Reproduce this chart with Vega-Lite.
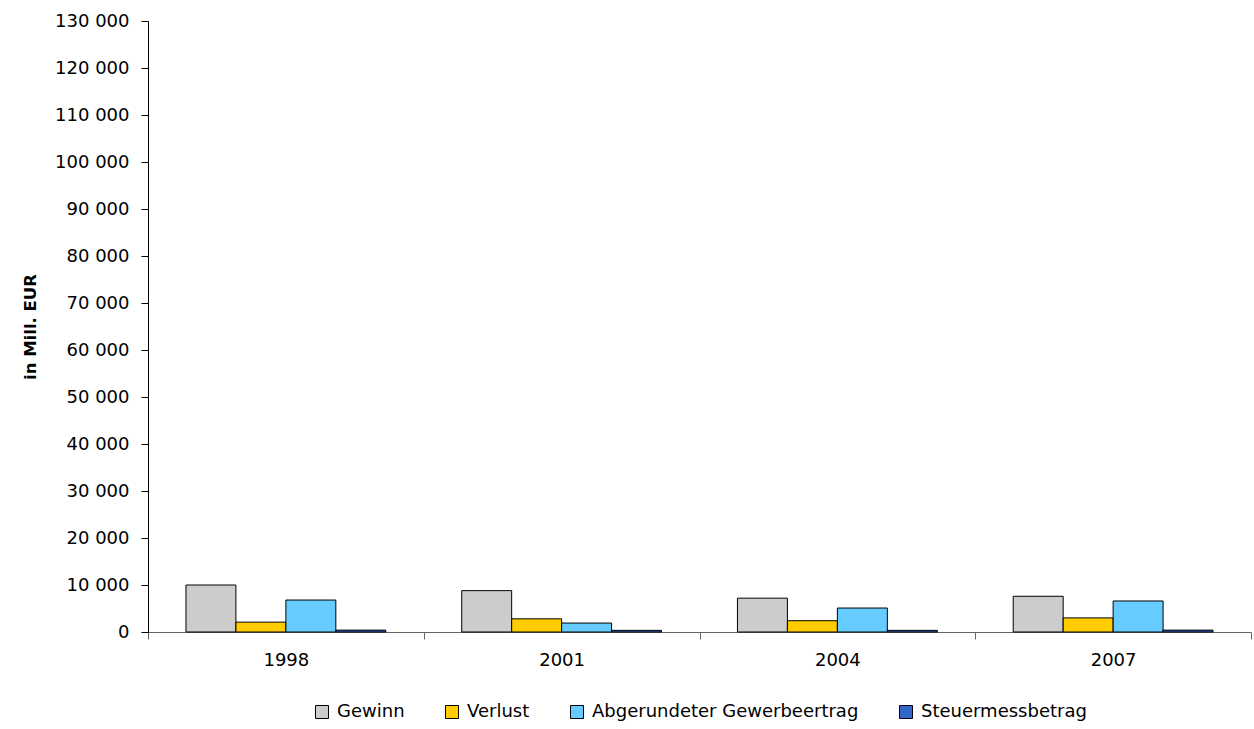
{
  "$schema": "https://vega.github.io/schema/vega-lite/v6.json",
  "autosize": {"type": "fit", "contains": "padding"},
  "width": 1254,
  "height": 729,
  "padding": {"left": 22, "top": 12, "right": 2, "bottom": 8},
  "background": "white",
  "config": {
    "view": {"stroke": null},
    "font": "DejaVu Sans",
    "axis": {"labelFont": "DejaVu Sans", "titleFont": "DejaVu Sans", "labelColor": "black", "titleColor": "black", "grid": false},
    "legend": {"layout": {"bottom": {"anchor": "middle"}}}
  },
  "data": {
    "values": [
      {"year": "1998", "series": "Gewinn", "value": 10000},
      {"year": "1998", "series": "Verlust", "value": 2100},
      {"year": "1998", "series": "Abgerundeter Gewerbeertrag", "value": 6800},
      {"year": "1998", "series": "Steuermessbetrag", "value": 400},
      {"year": "2001", "series": "Gewinn", "value": 8800},
      {"year": "2001", "series": "Verlust", "value": 2800},
      {"year": "2001", "series": "Abgerundeter Gewerbeertrag", "value": 1900},
      {"year": "2001", "series": "Steuermessbetrag", "value": 350},
      {"year": "2004", "series": "Gewinn", "value": 7200},
      {"year": "2004", "series": "Verlust", "value": 2400},
      {"year": "2004", "series": "Abgerundeter Gewerbeertrag", "value": 5100},
      {"year": "2004", "series": "Steuermessbetrag", "value": 350},
      {"year": "2007", "series": "Gewinn", "value": 7600},
      {"year": "2007", "series": "Verlust", "value": 3000},
      {"year": "2007", "series": "Abgerundeter Gewerbeertrag", "value": 6600},
      {"year": "2007", "series": "Steuermessbetrag", "value": 400}
    ]
  },
  "mark": {"type": "bar", "stroke": "black", "strokeWidth": 1},
  "encoding": {
    "x": {
      "field": "year", "type": "nominal",
      "scale": {"paddingInner": 0, "paddingOuter": 0},
      "axis": {"title": null, "tickBand": "extent", "labelAngle": 0, "labelFontSize": 18, "labelPadding": 12, "tickSize": 7, "domainColor": "#666666", "tickColor": "#666666"}
    },
    "xOffset": {
      "field": "series", "type": "nominal",
      "sort": ["Gewinn", "Verlust", "Abgerundeter Gewerbeertrag", "Steuermessbetrag"],
      "scale": {"paddingInner": 0, "paddingOuter": 0.76}
    },
    "y": {
      "field": "value", "type": "quantitative",
      "scale": {"domain": [0, 130000], "nice": false},
      "axis": {
        "title": "in Mill. EUR", "titleFontSize": 16.5, "titleFontWeight": "bold", "titlePadding": 16,
        "values": [0, 10000, 20000, 30000, 40000, 50000, 60000, 70000, 80000, 90000, 100000, 110000, 120000, 130000],
        "labelExpr": "replace(format(datum.value, ','), ',', ' ')",
        "labelFontSize": 18, "labelPadding": 12, "tickSize": 7, "domainColor": "black", "tickColor": "black"
      }
    },
    "color": {
      "field": "series", "type": "nominal",
      "sort": ["Gewinn", "Verlust", "Abgerundeter Gewerbeertrag", "Steuermessbetrag"],
      "scale": {"domain": ["Gewinn", "Verlust", "Abgerundeter Gewerbeertrag", "Steuermessbetrag"], "range": ["#cccccc", "#ffcc00", "#66ccff", "#3366cc"]},
      "legend": {
        "title": null, "orient": "bottom", "direction": "horizontal",
        "symbolType": "square", "symbolSize": 169, "symbolStrokeColor": "black", "symbolStrokeWidth": 1,
        "labelFontSize": 18, "labelFont": "DejaVu Sans", "labelColor": "black", "labelLimit": 400,
        "columnPadding": 38, "labelOffset": 6, "offset": 34
      }
    }
  }
}
